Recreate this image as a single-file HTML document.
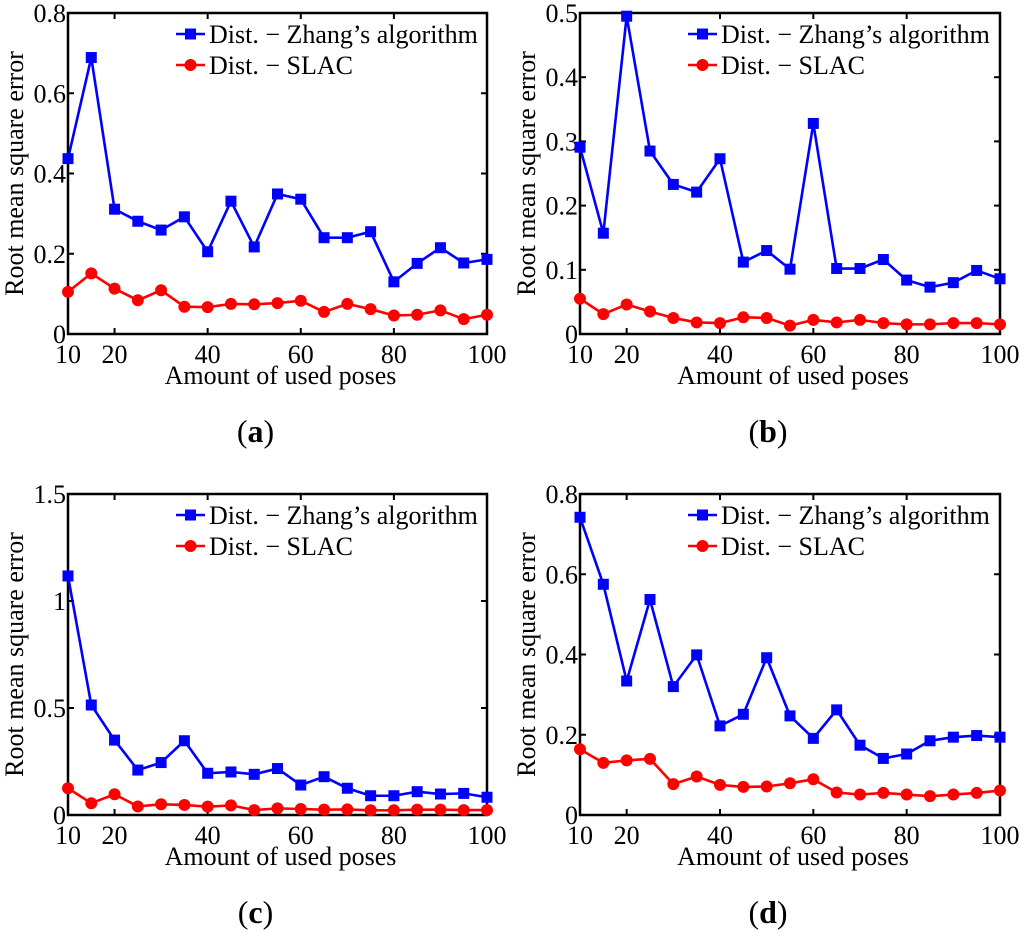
<!DOCTYPE html>
<html><head><meta charset="utf-8"><style>
body{margin:0;background:#fff;}
svg{display:block;font-family:'Liberation Serif',serif;}
text,tspan{font-family:'Liberation Serif',serif;}
</style></head><body>
<svg id="fig" width="1024" height="936" viewBox="0 0 1024 936"></svg>
<script>
const xCats=[10,15,20,25,30,35,40,45,50,55,60,65,70,75,80,85,90,95,100];
const xTickLabels=[10,20,40,60,80,100];
const aZhang=[0.437,0.689,0.311,0.281,0.259,0.292,0.205,0.331,0.217,0.349,0.336,0.240,0.240,0.255,0.130,0.176,0.215,0.177,0.186];
const aSlac=[0.105,0.151,0.113,0.084,0.109,0.068,0.067,0.075,0.074,0.077,0.083,0.055,0.075,0.062,0.046,0.048,0.059,0.037,0.048];
const aYTicks=["0","0.2","0.4","0.6","0.8"];
const bZhang=[0.291,0.157,0.495,0.285,0.233,0.221,0.273,0.112,0.130,0.101,0.328,0.102,0.102,0.116,0.084,0.073,0.080,0.099,0.086];
const bSlac=[0.055,0.031,0.046,0.035,0.025,0.018,0.017,0.026,0.025,0.013,0.022,0.018,0.022,0.017,0.015,0.015,0.017,0.017,0.015];
const bYTicks=["0","0.1","0.2","0.3","0.4","0.5"];
const cZhang=[1.117,0.514,0.350,0.210,0.245,0.347,0.195,0.201,0.190,0.217,0.140,0.179,0.125,0.090,0.090,0.109,0.098,0.101,0.083];
const cSlac=[0.125,0.055,0.097,0.040,0.050,0.047,0.039,0.045,0.023,0.031,0.028,0.025,0.026,0.022,0.022,0.025,0.025,0.023,0.023];
const cYTicks=["0","0.5","1","1.5"];
const dZhang=[0.742,0.575,0.334,0.537,0.320,0.399,0.222,0.251,0.392,0.247,0.191,0.262,0.174,0.141,0.152,0.185,0.194,0.198,0.194];
const dSlac=[0.164,0.130,0.136,0.140,0.077,0.096,0.075,0.070,0.071,0.079,0.089,0.056,0.051,0.055,0.051,0.047,0.051,0.055,0.061];
const dYTicks=["0","0.2","0.4","0.6","0.8"];

const NS="http://www.w3.org/2000/svg";
const svg=document.getElementById('fig');
function mk(tag,attrs,parent){const e=document.createElementNS(NS,tag);for(const k in attrs)e.setAttribute(k,attrs[k]);(parent||svg).appendChild(e);return e;}
function txt(attrs,parent,str,bold){
  const t=mk('text',attrs,parent);
  const s=mk('tspan',{style:"font-family:'Liberation Serif',serif"+(bold?';font-weight:bold':'')},t);
  s.textContent=str;
  return t;
}

function panel(id,L,R,T,B,ymax,yTicks,zhang,slac,letter){
  const g=mk('g',{});
  
  
  const xs=v=>L+(v-10)/90*(R-L);
  const ys=v=>B-v/ymax*(B-T);
  xTickLabels.forEach(t=>{
    const x=xs(t);
    mk('line',{x1:x,y1:B,x2:x,y2:B-6,stroke:'#000','stroke-width':2},g);
    mk('line',{x1:x,y1:T,x2:x,y2:T+6,stroke:'#000','stroke-width':2},g);
    const tx=txt({x:x,y:B+29,'font-size':26,'text-anchor':'middle'},g,String(t));
    
    
  });
  yTicks.forEach(t=>{
    const y=ys(parseFloat(t));
    mk('line',{x1:L,y1:y,x2:L+6,y2:y,stroke:'#000','stroke-width':2},g);
    mk('line',{x1:R,y1:y,x2:R-6,y2:y,stroke:'#000','stroke-width':2},g);
    const tx=txt({x:L-2,y:y+9,'font-size':26,'text-anchor':'end'},g,t);
    
    
  });
  const fr=mk('rect',{x:L,y:T,width:R-L,height:B-T,fill:'none',stroke:'#000','stroke-width':2.5},g);
  
  
  const pz=xCats.map((c,i)=>xs(c)+','+ys(zhang[i])).join(' ');
  const lz=mk('polyline',{points:pz,fill:'none',stroke:'#0000ff','stroke-width':2.6},g);
  
  
  xCats.forEach((c,i)=>{
    const m=mk('rect',{x:xs(c)-5.5,y:ys(zhang[i])-5.5,width:11,height:11,fill:'#0000ff'},g);
    
    
  });
  const ps=xCats.map((c,i)=>xs(c)+','+ys(slac[i])).join(' ');
  const ls=mk('polyline',{points:ps,fill:'none',stroke:'#ff0000','stroke-width':2.6},g);
  
  
  xCats.forEach((c,i)=>{
    const m=mk('circle',{cx:xs(c),cy:ys(slac[i]),r:6,fill:'#ff0000'},g);
    
    
  });
  const lg=mk('g',{},g);
  
  
  const lx=L+108, ly1=T+21, ly2=T+52;
  mk('line',{x1:lx,y1:ly1,x2:lx+29,y2:ly1,stroke:'#0000ff','stroke-width':2.6},lg);
  mk('rect',{x:lx+9,y:ly1-5.5,width:11,height:11,fill:'#0000ff'},lg);
  const t1=txt({x:lx+33,y:ly1+9,'font-size':26},lg,'Dist. \u2212 Zhang\u2019s algorithm');
  
  
  mk('line',{x1:lx,y1:ly2,x2:lx+29,y2:ly2,stroke:'#ff0000','stroke-width':2.6},lg);
  mk('circle',{cx:lx+14.5,cy:ly2,r:6,fill:'#ff0000'},lg);
  const t2=txt({x:lx+33,y:ly2+9,'font-size':26},lg,'Dist. \u2212 SLAC');
  
  
  const xt=txt({x:(L+R)/2+3,y:B+50,'font-size':26,'text-anchor':'middle'},g,'Amount of used poses');
  
  
  const cy=(T+B)/2;
  const yx=L-45;
  const yt=txt({x:yx,y:cy,'font-size':26,'text-anchor':'middle',transform:'rotate(-90 '+yx+' '+cy+')'},g,'Root mean square error');
  
  
  const cap=mk('text',{x:(L+R)/2-22,y:B+108,'font-size':32,'text-anchor':'middle'},g);
  
  
  mk('tspan',{style:"font-family:'Liberation Serif',serif"},cap).textContent='(';
  mk('tspan',{style:"font-family:'Liberation Serif',serif;font-weight:bold"},cap).textContent=letter;
  mk('tspan',{style:"font-family:'Liberation Serif',serif"},cap).textContent=')';
}
panel('a',68,487,13,334,0.8,aYTicks,aZhang,aSlac,'a');
panel('b',580,1000,13,334,0.5,bYTicks,bZhang,bSlac,'b');
panel('c',68,487,494,815,1.5,cYTicks,cZhang,cSlac,'c');
panel('d',580,1000,494,815,0.8,dYTicks,dZhang,dSlac,'d');
</script>
</body></html>
